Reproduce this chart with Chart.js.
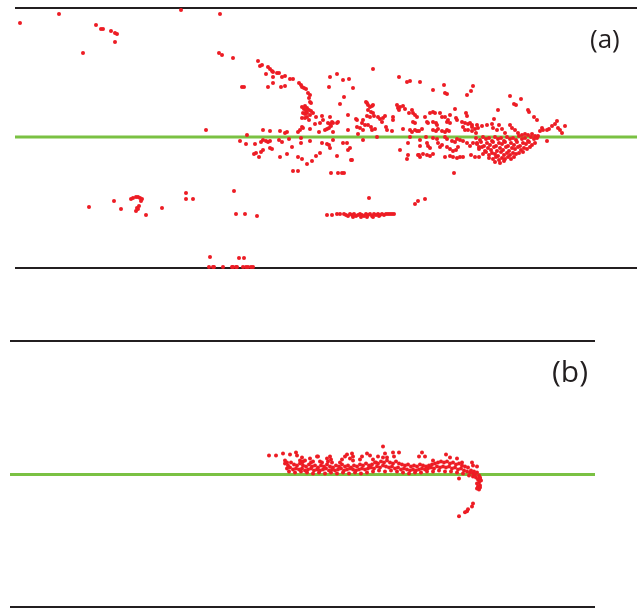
<!DOCTYPE html>
<html>
<head>
<meta charset="utf-8">
<script src="https://cdn.jsdelivr.net/npm/chart.js@4.4.1/dist/chart.umd.min.js"></script>
<style>
  html, body { margin: 0; padding: 0; background: #fff; }
  .wrap { position: relative; width: 642px; height: 611px; overflow: hidden; }
  canvas { position: absolute; left: 0; }
  #chartA { top: 0; }
  #chartB { top: 300px; }
  .tag {
    position: absolute;
    font-family: "Open Sans", "DejaVu Sans", sans-serif;
    color: #231f20;
    line-height: 1;
    white-space: nowrap;
  }
  #tagA { left: 590px; top: 25px; font-size: 26px; }
  #tagB { left: 552px; top: 356px; font-size: 30px; }
</style>
</head>
<body>
<div class="wrap">
  <canvas id="chartA" width="642" height="300"></canvas>
  <canvas id="chartB" width="642" height="311"></canvas>
  <div class="tag" id="tagA">(a)</div>
  <div class="tag" id="tagB">(b)</div>
</div>
<script>
// panel (a): sample index 0..622, residual -131..129
const rangeAX = [0, 622];
const rangeAY = [-131, 129];
// panel (b): sample index 0..585, residual -133..134
const rangeBX = [0, 585];
const rangeBY = [-133, 134];

const baselineA = 0;
const baselineB = 0;

const pointsA = [
  [5,114],[44,123],[81,112],[86,108],[88,108],[96,106],[100,104],[102,103],[100,95],[68,84],
  [166,127],[205,123],[204,84],[207,82],[218,79],[227,50],[229,50],[191,7],
  [243,76],[245,71],[247,72],[253,70],[255,68],[257,66],[258,65],[262,64],[264,64],[251,63],
  [258,60],[267,60],[270,61],[275,58],[278,58],[258,54],[253,50],[266,50],[270,51],
  [284,54],[286,52],[287,50],[289,49],[291,48],[293,44],[295,42],[294,39],[295,35],[296,34],
  [290,31],[287,30],[289,28],[292,29],[294,27],[296,26],[291,26],[288,24],[290,23],[292,24],
  [295,22],[298,24],[287,19],[290,19],[292,20],[294,17],[301,20],[307,21],[308,17],[315,20],
  [317,15],[313,14],[315,13],[318,14],[322,14],[323,15],[305,14],[300,13],[295,8],[287,10],
  [288,9],[283,5],[285,7],[304,5],[310,7],[312,8],[314,9],[316,11],[318,5],[333,22],[341,18],
  [333,7],[343,3],[248,7],[255,6],[265,6],[270,4],[272,5],[232,2],
  [225,-4],[231,-7],[240,-7],[246,-5],[248,-3],[251,-4],[253,-5],[255,-4],[264,-3],[267,-5],
  [274,-2],[286,-1],[286,-6],[295,-4],[307,-6],[312,-7],[314,-8],[318,-3],[328,-6],[332,-6],
  [248,-13],[246,-15],[255,-11],[257,-12],[277,-10],[241,-16],[239,-17],[244,-20],[265,-20],
  [272,-17],[283,-20],[287,-22],[292,-27],[297,-24],[301,-19],[305,-16],[315,-11],[322,-19],
  [333,-13],[336,-23],[278,-34],[283,-34],[316,-36],[323,-36],[327,-36],[329,-36],
  [315,60],[322,63],[328,57],[334,58],[314,50],[329,40],[325,33],
  [358,68],[338,49],[384,60],[392,55],[395,56],[405,55],[418,47],[429,52],[430,44],[432,43],
  [452,42],[458,51],[456,46],
  [351,35],[352,34],[353,32],[355,30],[357,31],[358,32],[353,27],[356,25],[358,24],[359,21],
  [355,20],[352,21],[363,20],[365,18],[367,15],[368,19],[370,21],[348,17],[347,14],[350,12],
  [345,9],[348,7],[353,12],[356,10],[357,7],[360,8],[342,17],[342,10],[371,10],[372,7],[377,6],
  [378,20],[378,17],[382,32],[383,29],[385,30],[388,31],[390,28],[384,27],[388,8],[394,24],
  [397,27],[398,24],[400,22],[402,20],[398,15],[400,14],[395,7],[397,5],[400,7],[402,6],
  [404,6],[407,8],[410,20],[412,15],[413,14],[415,24],[418,25],[420,24],[418,15],[421,14],
  [422,12],[425,24],[427,20],[430,20],[432,15],[433,17],[435,14],[435,22],[440,28],[441,19],
  [442,17],[418,7],[421,6],[423,8],[427,6],[430,5],[432,7],[434,6],[447,15],[450,14],[453,13],
  [455,14],[457,12],[448,10],[450,7],[453,7],[457,6],[460,8],[463,9],[451,24],[461,4],
  [335,-11],[337,-23],[348,-3],[362,0],[385,-13],[393,-6],[395,0],[405,-3],[412,-6],[413,-9],
  [415,-11],[411,0],[418,-1],[422,-2],[405,-9],[403,-18],[405,-20],[393,-18],[392,-22],
  [412,-18],[415,-19],[418,-17],[423,-6],[425,-10],[427,-8],[430,0],[432,-2],[437,-4],[440,-5],
  [442,-2],[445,-3],[448,-4],[432,-10],[435,-12],[438,-14],[441,-13],[443,-10],[435,-19],
  [438,-20],[442,-21],[445,-20],[448,-20],[430,-20],[452,-6],[455,-9],[458,-6],[462,-7],
  [464,-10],[456,-18],[460,-20],[464,-20],[439,-36],[404,-18],[408,-17],
  [495,41],[506,38],[499,33],[501,32],[483,27],[513,27],[514,25],[519,20],[522,17],[452,21],
  [479,18],[542,16],[540,13],[537,11],[534,8],[532,7],[543,9],[545,7],[547,4],[550,11],
  [527,9],[525,6],[528,7],[532,-4],
  [457,10],[462,12],[467,11],[472,12],[477,13],[478,9],[482,7],[484,12],[487,8],[490,4],
  [495,12],[497,9],[500,7],[503,4],[507,2],[510,3],[513,2],[517,3],[520,1],[523,1],
  [461,-1],[465,-3],[468,0],[471,-2],[474,-1],[477,-4],[480,0],[483,-2],[486,-1],[489,-4],
  [492,0],[495,-2],[498,-1],[501,-3],[504,1],[507,-2],[510,-1],[513,-4],[516,0],[519,-2],[522,-1],
  [462,-6],[466,-5],[469,-9],[472,-6],[475,-8],[478,-5],[481,-9],[484,-6],[487,-7],[490,-5],
  [493,-9],[496,-6],[499,-8],[502,-5],[505,-9],[508,-6],[511,-7],[514,-5],[517,-8],[520,-6],
  [464,-12],[467,-10],[470,-14],[473,-11],[476,-13],[479,-10],[482,-14],[485,-11],[488,-13],
  [491,-10],[494,-14],[497,-11],[500,-12],[503,-10],[506,-13],[509,-11],[512,-12],[515,-10],
  [468,-17],[471,-15],[474,-18],[477,-16],[480,-17],[483,-19],[486,-15],[489,-18],[492,-16],
  [495,-18],[498,-16],[501,-17],[504,-16],[508,-15],
  [474,-21],[478,-22],[481,-20],[484,-23],[487,-21],[490,-22],[493,-20],[496,-22],[499,-20],
  [480,-25],[485,-26],[489,-24],
  [74,-70],[99,-64],[106,-72],[116,-62],[118,-61],[121,-60],[123,-60],[125,-61],[127,-62],
  [126,-64],[124,-69],[122,-71],[121,-74],[123,-72],[131,-78],[147,-71],[171,-56],[171,-62],
  [178,-62],[219,-54],[221,-77],[230,-77],[242,-79],[195,-120],[224,-121],[229,-121],
  [194,-130],[198,-130],[199,-130],[208,-130],[217,-130],[218,-130],[221,-130],[222,-130],
  [228,-130],[231,-130],[233,-130],[236,-130],[238,-130],
  [354,-61],[400,-67],[403,-64],[410,-62],
  [312,-78],[317,-78],[322,-77],[325,-77],[329,-77],[331,-78],[333,-79],[335,-77],[337,-78],
  [339,-77],[341,-79],[343,-78],[345,-77],[347,-78],[349,-79],[351,-77],[353,-78],[355,-77],
  [357,-79],[359,-77],[361,-78],[363,-77],[365,-78],[367,-77],[369,-78],[371,-77],[373,-77],
  [375,-77],[377,-77],[379,-77],[338,-80],[346,-80],[352,-80],[358,-80],[364,-79]
];

const pointsB = [
  [259,19],[266,19],[273,21],[280,20],[286,22],[287,19],[292,17],[293,13],[300,16],[301,12],
  [308,18],[310,13],[317,16],[320,18],[318,13],[335,18],[337,20],[342,21],[343,18],[340,16],
  [352,18],[357,21],[360,19],[368,18],[366,12],[373,28],[375,21],[377,17],[373,17],[383,22],
  [384,18],[389,22],[412,22],[415,18],[409,18],[423,14],[436,20],[440,17],[447,16],[452,12],
  [462,12],[463,9],[467,8],
  [275,14],[277,12],[290,14],[292,12],[295,14],[303,13],[307,18],[312,12],[321,15],[322,12],
  [330,12],[332,15],[343,14],[350,15],[363,15],
  [275,11],[278,9],[281,12],[284,10],[287,9],[290,11],[293,9],[296,8],[299,10],[302,8],
  [305,9],[308,7],[311,9],[314,8],[317,10],[320,8],[323,7],[326,9],[329,8],[332,10],
  [335,8],[338,9],[341,7],[344,9],[347,8],[350,10],[353,9],[356,11],[359,9],[362,10],
  [365,12],[368,11],[371,13],[374,12],[377,14],[380,12],[383,11],[386,13],[389,11],[392,10],
  [395,9],[398,10],[401,8],[404,9],[407,8],[410,10],[413,9],[416,8],[419,9],[422,10],
  [425,11],[428,12],[431,13],[434,12],[437,13],[440,11],[443,12],[446,10],[449,11],[452,9],
  [455,8],[458,7],
  [277,6],[280,7],[283,5],[286,6],[289,5],[292,6],[295,4],[298,5],[301,6],[304,4],
  [307,5],[310,4],[313,5],[316,6],[319,4],[322,5],[325,4],[328,5],[331,6],[334,4],
  [337,5],[340,6],[343,5],[346,4],[349,5],[352,6],[355,5],[358,6],[361,7],[364,6],
  [367,8],[370,7],[373,9],[376,8],[379,7],[382,8],[385,6],[388,7],[391,5],[394,6],
  [397,5],[400,4],[403,5],[406,4],[409,5],[412,6],[415,5],[418,6],[421,7],[424,6],
  [427,8],[430,7],[433,8],[436,7],[439,8],[442,6],[445,7],[448,5],[451,6],[454,4],
  [457,3],[460,2],[463,1],
  [279,3],[285,2],[291,3],[297,2],[303,1],[309,2],[315,1],[321,2],[327,1],[333,2],
  [339,1],[345,2],[351,1],[357,2],[363,3],[369,4],[375,3],[381,4],[387,3],[393,2],
  [399,1],[405,2],[411,2],[417,3],[423,3],[429,4],[435,3],[441,3],[447,2],[453,1],
  [449,-4],[459,-1],[461,4],[463,-2],[464,3],[465,0],[466,-3],[467,2],[468,-5],[469,-1],
  [469,-8],[470,-4],[470,-11],[471,-6],[470,-13],[469,-15],[468,-12],[467,-9],[470,-3],
  [467,-14],
  [463,-29],[462,-32],[458,-35],[457,-37],[455,-38],[449,-42]
];

const RED = "#ed1c24";
const BLACK = "#231f20";
const GREEN = "#7ac143";

function hLine(xRange, y, color, width) {
  return {
    type: "line",
    data: [{ x: xRange[0], y: y }, { x: xRange[1], y: y }],
    borderColor: color,
    borderWidth: width,
    pointRadius: 0,
    showLine: true,
    fill: false,
    order: 2,
    clip: false,
  };
}

function buildPanel(canvasId, points, xRange, yRange, baseline, padding) {
  new Chart(document.getElementById(canvasId), {
    type: "scatter",
    data: {
      datasets: [
        {
          data: points.map(([x, y]) => ({ x, y })),
          backgroundColor: RED,
          borderWidth: 0,
          pointRadius: 2,
          order: 0,
          clip: false,
        },
        hLine(xRange, baseline, GREEN, 3),
        hLine(xRange, yRange[1], BLACK, 2),
        hLine(xRange, yRange[0], BLACK, 2),
      ],
    },
    options: {
      responsive: false,
      animation: false,
      layout: { padding },
      scales: {
        x: { type: "linear", display: false, min: xRange[0], max: xRange[1] },
        y: { type: "linear", display: false, min: yRange[0], max: yRange[1] },
      },
      plugins: {
        legend: { display: false },
        tooltip: { enabled: false },
      },
    },
  });
}

document.addEventListener("DOMContentLoaded", () => {
  buildPanel("chartA", pointsA, rangeAX, rangeAY, baselineA,
    { left: 15, right: 5, top: 8, bottom: 32 });
  buildPanel("chartB", pointsB, rangeBX, rangeBY, baselineB,
    { left: 10, right: 47, top: 41, bottom: 3 });
});
</script>
</body>
</html>
